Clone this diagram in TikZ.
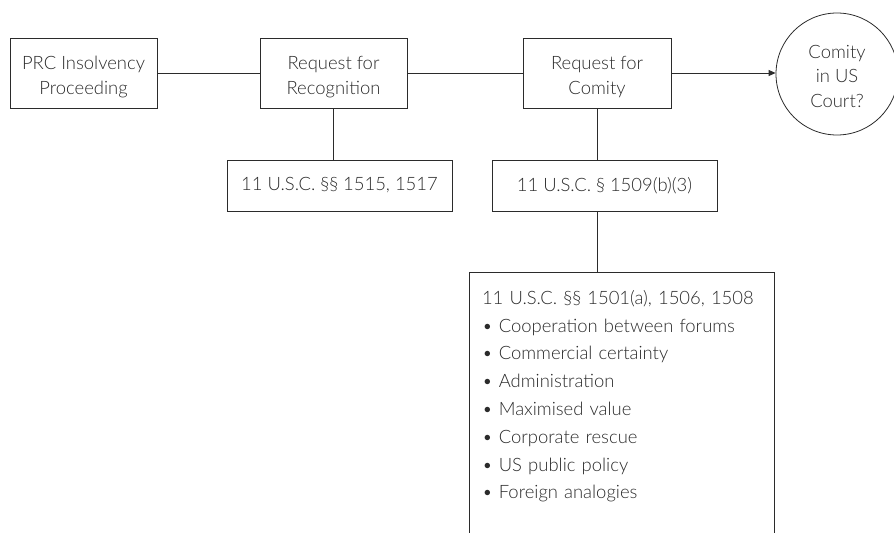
\documentclass[tikz,border=0pt]{standalone}
\usepackage{fontspec}
\setmainfont{Lato Light}
\usetikzlibrary{arrows.meta}
\definecolor{ink}{HTML}{2B2B2B}
\newcommand{\toppad}[1]{\rule{0pt}{#1}}
\begin{document}
\begin{tikzpicture}[x=1bp,y=-1bp,
  every node/.style={font=\fontsize{18.5}{25}\selectfont, text=ink},
  box/.style={draw=ink, line width=0.8bp, align=center, inner sep=0pt},
  link/.style={draw=ink, line width=0.8bp},
  arr/.style={link, -{Triangle[length=7bp,width=6bp]}}]
\useasboundingbox (0,0) rectangle (894,533);
\clip (0,0) rectangle (894,533);
\node[box, minimum width=147bp, minimum height=70bp] (prc) at (83.5,73) {\toppad{22bp}PRC Insolvency\\Proceeding};
\node[box, minimum width=147bp, minimum height=70bp] (rec) at (333.5,73) {\toppad{22bp}Request for\\Recognition};
\node[box, minimum width=148bp, minimum height=70bp] (com) at (597,73) {\toppad{22bp}Request for\\Comity};
\node[draw=ink, line width=0.8bp, circle, minimum size=122bp, inner sep=0pt, align=center] (us) at (837,74) {\toppad{18bp}Comity\\in US\\Court?};
\node[box, minimum width=225bp, minimum height=51bp] (s1515) at (339.5,185.5) {11 U.S.C. §§ 1515, 1517};
\node[box, minimum width=225bp, minimum height=51bp] (s1509) at (604.5,185.5) {11 U.S.C. § 1509(b)(3)};
\node[box, anchor=north, minimum width=305bp, text width=279bp, align=left, inner xsep=13bp, inner ysep=0pt, font=\fontsize{18.5}{27.9}\selectfont] (list) at (621.5,272) {\toppad{32bp}11 U.S.C. §§ 1501(a), 1506, 1508\\
• Cooperation between forums\\
• Commercial certainty\\
• Administration\\
• Maximised value\\
• Corporate rescue\\
• US public policy\\
• Foreign analogies\rule[-60bp]{0pt}{0pt}};
\draw[link] (prc.east) -- (rec.west);
\draw[link] (rec.east) -- (com.west);
\draw[arr] (com.east) -- (com.east -| us.west);
\draw[link] (rec.south) -- (rec.south |- s1515.north);
\draw[link] (com.south) -- (com.south |- s1509.north);
\draw[link] (com.south |- s1509.south) -- (com.south |- list.north);
\end{tikzpicture}
\end{document}
